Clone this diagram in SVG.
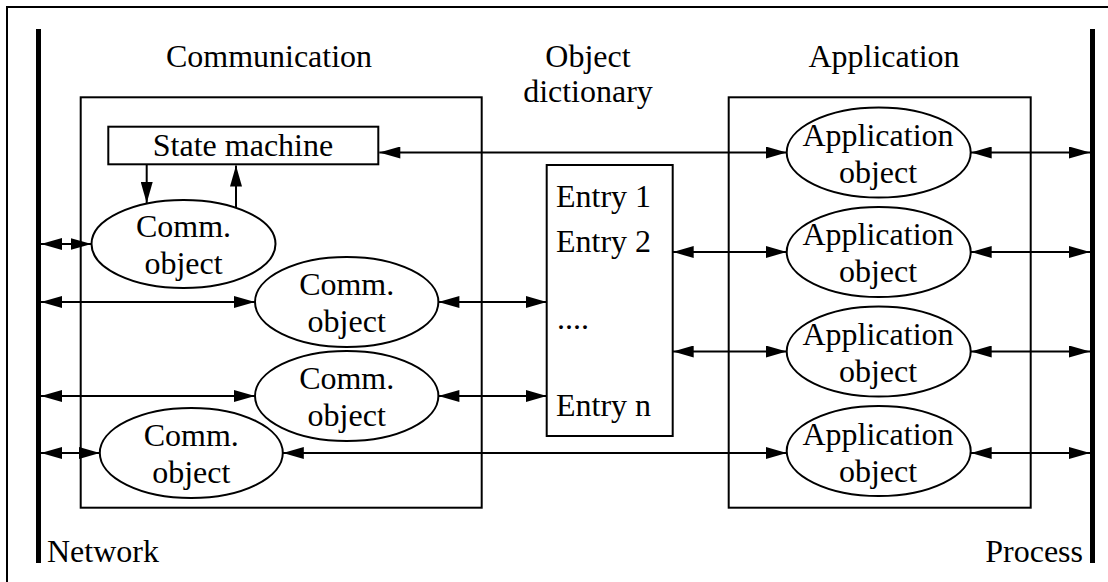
<svg xmlns="http://www.w3.org/2000/svg" width="1108" height="582" viewBox="0 0 1108 582">
  <style>
    text { font-family: "Liberation Serif", "Times New Roman", serif; font-size: 32px; fill: #000; }
    .mid { text-anchor: middle; }
    .box { fill: none; stroke: #000; stroke-width: 2; }
    .node { fill: #fff; stroke: #000; stroke-width: 2; }
    .bar { fill: #000; }
    .link { stroke: #000; stroke-width: 2; fill: none; marker-end: url(#head); }
    .both { marker-start: url(#tail); }
  </style>
  <defs>
    <marker id="head" markerUnits="userSpaceOnUse" markerWidth="22" markerHeight="12" refX="21" refY="6" orient="auto">
      <path d="M0,0 L21,6 L0,12 z" fill="#000"/>
    </marker>
    <marker id="tail" markerUnits="userSpaceOnUse" markerWidth="22" markerHeight="12" refX="0" refY="6" orient="auto">
      <path d="M21,0 L0,6 L21,12 z" fill="#000"/>
    </marker>
  </defs>

  <rect width="1108" height="582" fill="#fff"/>
  <!-- outer frame, running off the right and bottom edges -->
  <rect x="7" y="7" width="1200" height="700" class="box"/>

  <!-- buses -->
  <g id="network">
    <rect x="36" y="29" width="5" height="534" class="bar"/>
    <text x="47" y="562">Network</text>
  </g>
  <g id="process">
    <rect x="1090" y="29" width="5" height="534" class="bar"/>
    <text x="1083" y="562" text-anchor="end">Process</text>
  </g>

  <!-- section titles -->
  <text x="269" y="67" class="mid">Communication</text>
  <text x="588" y="67" class="mid">Object</text>
  <text x="588" y="102" class="mid">dictionary</text>
  <text x="884" y="67" class="mid">Application</text>

  <!-- frames -->
  <g id="communication">
    <rect x="80.7" y="97.3" width="401" height="410.4" class="box"/>
  </g>
  <g id="application">
    <rect x="728.7" y="97.3" width="302" height="410.4" class="box"/>
  </g>

  <!-- connectors -->
  <g id="connectors">
    <!-- state machine / comm object 1 -->
    <line x1="146.7" y1="165" x2="146.7" y2="203" class="link"/>
    <line x1="236" y1="208" x2="236" y2="165.5" class="link"/>
    <!-- state machine / application object 1 -->
    <line x1="379.3" y1="152.5" x2="786.7" y2="152.5" class="link both"/>
    <!-- network side -->
    <line x1="41" y1="244" x2="91.5" y2="244" class="link both"/>
    <line x1="41" y1="302" x2="255" y2="302" class="link both"/>
    <line x1="41" y1="396" x2="255" y2="396" class="link both"/>
    <line x1="41" y1="453" x2="99.8" y2="453" class="link both"/>
    <!-- comm objects / dictionary -->
    <line x1="438.4" y1="302" x2="546.7" y2="302" class="link both"/>
    <line x1="438.4" y1="396" x2="546.7" y2="396" class="link both"/>
    <!-- dictionary / application objects -->
    <line x1="672.7" y1="252" x2="786.7" y2="252" class="link both"/>
    <line x1="672.7" y1="351.5" x2="786.7" y2="351.5" class="link both"/>
    <!-- comm object 4 / application object 4 -->
    <line x1="282.8" y1="453" x2="786.7" y2="453" class="link both"/>
    <!-- application objects / process -->
    <line x1="970.7" y1="152.5" x2="1090" y2="152.5" class="link both"/>
    <line x1="970.7" y1="252" x2="1090" y2="252" class="link both"/>
    <line x1="970.7" y1="351.5" x2="1090" y2="351.5" class="link both"/>
    <line x1="970.7" y1="453" x2="1090" y2="453" class="link both"/>
  </g>

  <!-- nodes -->
  <g id="state-machine">
    <rect x="108.3" y="126.7" width="270" height="37.6" class="node"/>
    <text x="243" y="156" class="mid">State machine</text>
  </g>

  <g id="comm-object-1">
    <ellipse cx="183.5" cy="244" rx="92" ry="44" class="node"/>
    <text x="183.5" y="237" class="mid">Comm.</text>
    <text x="183.5" y="274" class="mid">object</text>
  </g>
  <g id="comm-object-2">
    <ellipse cx="346.7" cy="302" rx="91.7" ry="45" class="node"/>
    <text x="346.7" y="295" class="mid">Comm.</text>
    <text x="346.7" y="332" class="mid">object</text>
  </g>
  <g id="comm-object-3">
    <ellipse cx="346.7" cy="396" rx="91.7" ry="45" class="node"/>
    <text x="346.7" y="389" class="mid">Comm.</text>
    <text x="346.7" y="426" class="mid">object</text>
  </g>
  <g id="comm-object-4">
    <ellipse cx="191.3" cy="453" rx="91.5" ry="45" class="node"/>
    <text x="191.3" y="446" class="mid">Comm.</text>
    <text x="191.3" y="483" class="mid">object</text>
  </g>

  <g id="object-dictionary">
    <rect x="546.7" y="165" width="126" height="271" class="node"/>
    <text x="556" y="207">Entry 1</text>
    <text x="556" y="252">Entry 2</text>
    <text x="557" y="329">....</text>
    <text x="556" y="416">Entry n</text>
  </g>

  <g id="application-object-1">
    <ellipse cx="878.7" cy="152.5" rx="92" ry="45" class="node"/>
    <text x="878" y="146" class="mid">Application</text>
    <text x="878" y="183" class="mid">object</text>
  </g>
  <g id="application-object-2">
    <ellipse cx="878.7" cy="252" rx="92" ry="45" class="node"/>
    <text x="878" y="245" class="mid">Application</text>
    <text x="878" y="282" class="mid">object</text>
  </g>
  <g id="application-object-3">
    <ellipse cx="878.7" cy="351.5" rx="92" ry="45" class="node"/>
    <text x="878" y="345" class="mid">Application</text>
    <text x="878" y="382" class="mid">object</text>
  </g>
  <g id="application-object-4">
    <ellipse cx="878.7" cy="451" rx="92" ry="45" class="node"/>
    <text x="878" y="445" class="mid">Application</text>
    <text x="878" y="482" class="mid">object</text>
  </g>
</svg>
